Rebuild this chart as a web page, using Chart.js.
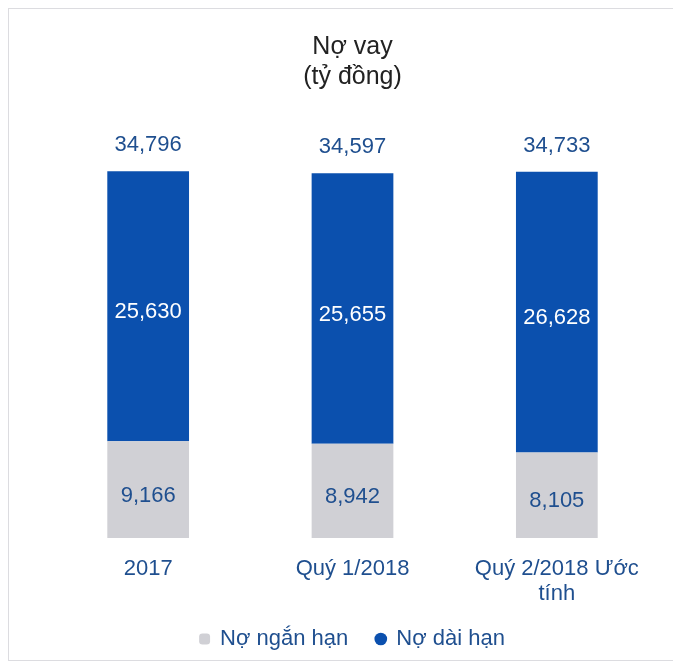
<!DOCTYPE html>
<html>
<head>
<meta charset="utf-8">
<script src="https://cdn.jsdelivr.net/npm/chart.js@4/dist/chart.umd.min.js"></script>
<style>
  html, body { margin: 0; padding: 0; background: #fff; }
  #wrap { position: relative; width: 673px; height: 667px; }
</style>
</head>
<body>
<div id="wrap"><canvas id="debtChart" width="673" height="667"></canvas></div>
<script>
const categories = ['2017', 'Quý 1/2018', ['Quý 2/2018 Ước', 'tính']];
const shortTerm = [9166, 8942, 8105];
const longTerm = [25630, 25655, 26628];
const seriesNames = ['Nợ ngắn hạn', 'Nợ dài hạn'];

const textBlue = '#1f4f8f';
const barBlue = '#0b50ae';
const barGrey = '#d0d0d5';
const font = '"Liberation Sans", Arial, sans-serif';

const fmt = v => v.toLocaleString('en-US');

// light border round the whole chart
const framePlugin = {
    id: 'frame',
    beforeDraw(chart) {
        const ctx = chart.ctx;
        ctx.save();
        ctx.strokeStyle = '#dcdce0';
        ctx.lineWidth = 1;
        ctx.strokeRect(8.5, 8.5, 680, 652);
        ctx.restore();
    }
};

// values inside each segment and the total over each bar
const labelPlugin = {
    id: 'barLabels',
    afterDatasetsDraw(chart) {
        const ctx = chart.ctx;
        ctx.save();
        ctx.font = '22px ' + font;
        ctx.textAlign = 'center';
        ctx.textBaseline = 'middle';
        chart.data.datasets.forEach((ds, di) => {
            const meta = chart.getDatasetMeta(di);
            meta.data.forEach((bar, i) => {
                ctx.fillStyle = di === 0 ? textBlue : '#ffffff';
                ctx.fillText(fmt(ds.data[i]), bar.x, (bar.y + bar.base) / 2 + 6);
            });
        });
        const topMeta = chart.getDatasetMeta(chart.data.datasets.length - 1);
        topMeta.data.forEach((bar, i) => {
            ctx.fillStyle = textBlue;
            ctx.fillText(fmt(shortTerm[i] + longTerm[i]), bar.x, bar.y - 26);
        });
        ctx.restore();
    }
};

new Chart(document.getElementById('debtChart'), {
    type: 'bar',
    data: {
        labels: categories,
        datasets: [
            {
                label: seriesNames[0],
                data: shortTerm,
                backgroundColor: barGrey,
                pointStyle: 'rectRounded'
            },
            {
                label: seriesNames[1],
                data: longTerm,
                backgroundColor: barBlue,
                pointStyle: 'circle'
            }
        ]
    },
    options: {
        responsive: false,
        animation: false,
        categoryPercentage: 1,
        barPercentage: 0.4,
        layout: { padding: { left: 46, right: 14, top: 0, bottom: 7 } },
        scales: {
            x: {
                stacked: true,
                grid: { display: false, drawTicks: false },
                border: { display: false },
                ticks: {
                    color: textBlue,
                    font: { family: font, size: 22, lineHeight: 1.15 },
                    padding: 18,
                    maxRotation: 0
                },
                afterFit(scale) { scale.height = 62; }
            },
            y: {
                stacked: true,
                display: false,
                min: 0,
                max: 35000
            }
        },
        plugins: {
            title: {
                display: true,
                fullSize: false,
                text: ['Nợ vay', '(tỷ đồng)'],
                color: '#222222',
                font: { family: font, size: 25, weight: 'normal', lineHeight: 1.2 },
                padding: { top: 32, bottom: 77 }
            },
            legend: {
                position: 'bottom',
                fullSize: false,
                labels: {
                    color: textBlue,
                    font: { family: font, size: 22 },
                    usePointStyle: true,
                    boxWidth: 9,
                    boxHeight: 9,
                    padding: 28
                }
            },
            tooltip: { enabled: false }
        }
    },
    plugins: [framePlugin, labelPlugin]
});
</script>
</body>
</html>
